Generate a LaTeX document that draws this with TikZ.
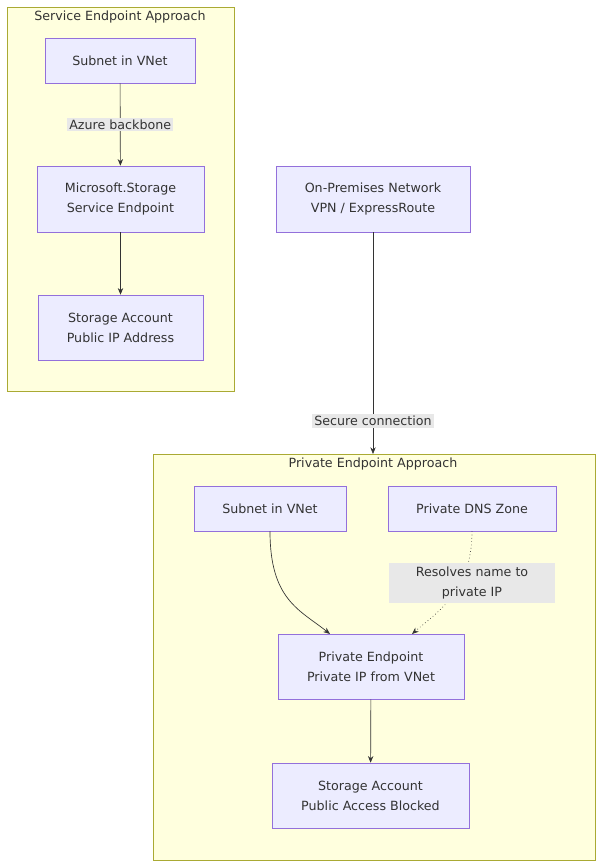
\documentclass[tikz,border=0pt]{standalone}
\usepackage{fontspec}
\setmainfont{DejaVu Sans}
\usetikzlibrary{arrows.meta}
\definecolor{nodefill}{HTML}{ECECFF}
\definecolor{nodeline}{HTML}{9370DB}
\definecolor{clusterfill}{HTML}{FFFFDE}
\definecolor{clusterline}{HTML}{AAAA33}
\definecolor{labelfill}{HTML}{E8E8E8}
\definecolor{textcol}{HTML}{333333}
\tikzset{
  box/.style={draw=nodeline, fill=nodefill, text=textcol, align=center, font=\fontsize{9.5}{15}\selectfont, inner sep=0pt},
  cluster/.style={draw=clusterline, fill=clusterfill},
  ctitle/.style={text=textcol, font=\fontsize{9.5}{12}\selectfont},
  elabel/.style={fill=labelfill, text=textcol, align=center, font=\fontsize{9.5}{15}\selectfont, inner sep=1.5pt},
  arr/.style={-{Stealth[length=5pt,width=4pt]}, draw=textcol, line width=0.5pt}
}
\begin{document}
\begin{tikzpicture}[x=0.75pt,y=-0.75pt]
\useasboundingbox (0,0) rectangle (600,868);
% service endpoint cluster
\draw[cluster] (7,7) rectangle (234,391);
\node[ctitle] (t1) at (120,17) {Service Endpoint Approach};
\node[box, minimum width=150*0.75pt, minimum height=45*0.75pt] (subnet1) at (120,60.5) {Subnet in VNet};
\node[box, minimum width=167*0.75pt, minimum height=66*0.75pt] (mss) at (120.5,199) {Microsoft.Storage\\Service Endpoint};
\node[box, minimum width=165*0.75pt, minimum height=65*0.75pt] (sa1) at (120.5,327.5) {Storage Account\\Public IP Address};
% on-premises
\node[box, minimum width=194*0.75pt, minimum height=66*0.75pt] (onprem) at (373,199) {On-Premises Network\\VPN / ExpressRoute};
% private endpoint cluster
\draw[cluster] (153,454) rectangle (595,860);
\coordinate (c2top) at (373,454);
\node[ctitle] (t2) at (373,464) {Private Endpoint Approach};
\node[box, minimum width=152*0.75pt, minimum height=45*0.75pt] (subnet2) at (270,508.5) {Subnet in VNet};
\node[box, minimum width=168*0.75pt, minimum height=45*0.75pt] (dns) at (472,508.5) {Private DNS Zone};
\node[box, minimum width=186*0.75pt, minimum height=65*0.75pt] (pe) at (371,666.5) {Private Endpoint\\Private IP from VNet};
\node[box, minimum width=197*0.75pt, minimum height=65*0.75pt] (sa2) at (370.5,795.5) {Storage Account\\Public Access Blocked};
% connectors
\draw[arr] (subnet1) -- node[elabel] {Azure backbone} (mss);
\draw[arr] (mss) -- (sa1);
\draw[arr] (onprem) -- node[elabel, pos=0.85] {Secure connection} (c2top);
\draw[arr] (subnet2.south) .. controls (270,600) and (300,610) .. (330,634);
\draw[arr, dotted] (dns.south) .. controls (472,590) and (440,610) .. (412,634);
\node[elabel, minimum width=166*0.75pt, minimum height=40*0.75pt] (res) at (472,583) {Resolves name to\\private IP};
\draw[arr] (pe) -- (sa2);
\end{tikzpicture}
\end{document}
